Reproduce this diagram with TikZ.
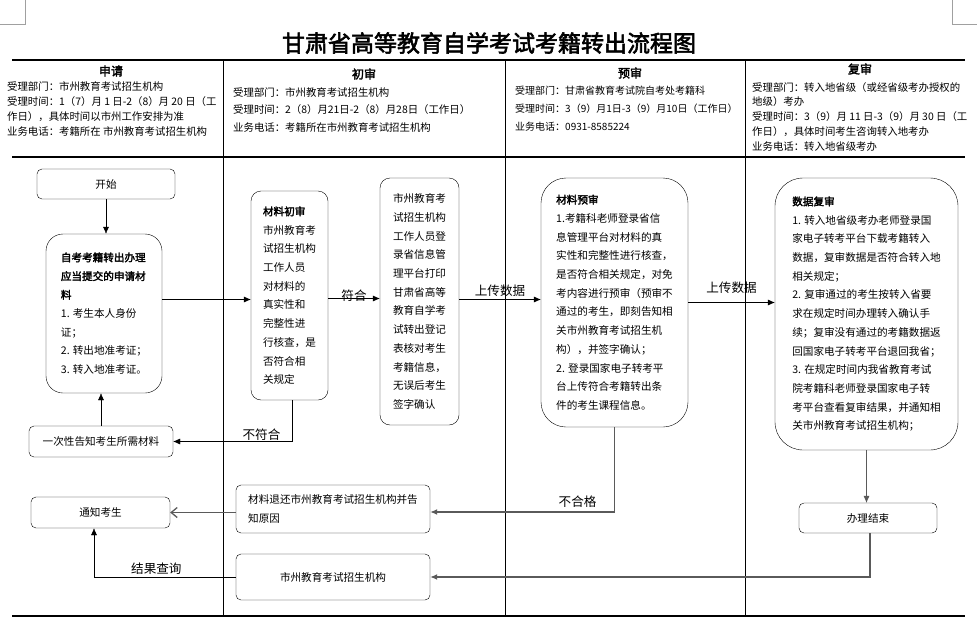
\documentclass[tikz,border=0pt]{standalone}
\usepackage{fontspec}
\setmainfont{Noto Sans CJK SC}[AutoFakeBold=2.5]
\usepackage{tikz}
\usetikzlibrary{arrows.meta, positioning}
\tikzset{>=Stealth}
\definecolor{linegray}{HTML}{5A5A5A}
\definecolor{markgray}{HTML}{A0A0A0}
\tikzset{
  box/.style={draw, rounded corners=5pt, inner sep=0pt, align=center, font=\fontsize{10.6}{18.7}\selectfont},
  tallbox/.style={box, align=left},
  info/.style={anchor=north west, inner sep=0pt, align=left},
  colhead/.style={inner sep=0pt, font=\fontsize{12}{12}\selectfont\bfseries},
  lbl/.style={inner sep=1pt, font=\fontsize{12.6}{13}\selectfont},
  flow/.style={-{Latex[length=7pt,width=6pt]}},
  backflow/.style={draw=linegray, line width=1.3pt, -{Latex[length=7pt,width=6pt]}}
}

\begin{document}
\begin{tikzpicture}[x=1pt, y=-1pt]
				\useasboundingbox (0,0) rectangle (977,626);
				% crop marks and table frame
				\draw [markgray] (25,0) -- (25,24) -- (0,24);
				\draw [markgray] (952,0) -- (952,24) -- (977,24);
				\draw [line width=1.6pt] (12,60) -- (965,60);
				\draw [line width=1.6pt] (12,157) -- (965,157);
				\draw [line width=1.6pt] (12,616) -- (965,616);
				\draw (223,60) -- (223,616);
				\draw (505,60) -- (505,616);
				\draw (745,60) -- (745,616);
				\node (title) [inner sep=0pt, font=\fontsize{23}{23}\selectfont\bfseries] at (489,43) {甘肃省高等教育自学考试考籍转出流程图};
				% column heads
				\node (happly) [colhead] at (111,71) {申请};
				\node (hfirst) [colhead] at (364,74) {初审};
				\node (hpre) [colhead] at (630,73) {预审};
				\node (hre) [colhead] at (860,69) {复审};
				\node (iapply) [info, font=\fontsize{10.4}{15}\selectfont] at (7,81) {受理部门：市州教育考试招生机构\\受理时间：1（7）月 1 日-2（8）月 20 日（工\\作日），具体时间以市州工作安排为准\\业务电话：考籍所在 市州教育考试招生机构};
				\node (ifirst) [info, font=\fontsize{10.4}{17.5}\selectfont] at (233,87) {受理部门：市州教育考试招生机构\\受理时间：2（8）月21日-2（8）月28日（工作日）\\业务电话：考籍所在市州教育考试招生机构};
				\node (ipre) [info, font=\fontsize{10}{18}\selectfont] at (515,86) {受理部门：甘肃省教育考试院自考处考籍科\\受理时间：3（9）月1日-3（9）月10日（工作日）\\业务电话：0931-8585224};
				\node (ire) [info, font=\fontsize{10.4}{14.8}\selectfont] at (752,82) {受理部门：转入地省级（或经省级考办授权的\\地级）考办\\受理时间：3（9）月 11 日-3（9）月 30 日（工\\作日），具体时间考生咨询转入地考办\\业务电话：转入地省级考办};
				% flow boxes
				\node (start) [box, minimum width=138pt, minimum height=30pt] at (106,184) {开始};
				\node (apply) [tallbox, rounded corners=17pt, minimum width=116pt, minimum height=159pt] at (104,313.5) {\textbf{自考考籍转出办理}\\\textbf{应当提交的申请材}\\\textbf{料}\\1. 考生本人身份\\证；\\2. 转出地准考证；\\3. 转入地准考证。};
				\node (notice) [box, minimum width=144pt, minimum height=31pt] at (101,441.5) {一次性告知考生所需材料};
				\node (firstcheck) [tallbox, rounded corners=10pt, minimum width=77pt, minimum height=209pt] at (289.5,295.5) {\textbf{材料初审}\\市州教育考\\试招生机构\\工作人员\\对材料的\\真实性和\\完整性进\\行核查，是\\否符合相\\关规定};
				\node (cityprint) [tallbox, rounded corners=10pt, minimum width=79pt, minimum height=247pt] at (419.5,301.5) {市州教育考\\试招生机构\\工作人员登\\录省信息管\\理平台打印\\甘肃省高等\\教育自学考\\试转出登记\\表核对考生\\考籍信息，\\无误后考生\\签字确认};
				\node (precheck) [tallbox, rounded corners=25pt, minimum width=147pt, minimum height=249pt] at (614.5,302.5) {\textbf{材料预审}\\1.考籍科老师登录省信\\息管理平台对材料的真\\实性和完整性进行核查，\\是否符合相关规定，对免\\考内容进行预审（预审不\\通过的考生，即刻告知相\\关市州教育考试招生机\\构），并签字确认；\\2. 登录国家电子转考平\\台上传符合考籍转出条\\件的考生课程信息。};
				\node (recheck) [tallbox, rounded corners=28pt, minimum width=183pt, minimum height=272pt] at (866.5,314) {\textbf{数据复审}\\1. 转入地省级考办老师登录国\\家电子转考平台下载考籍转入\\数据，复审数据是否符合转入地\\相关规定；\\2. 复审通过的考生按转入省要\\求在规定时间办理转入确认手\\续；复审没有通过的考籍数据返\\回国家电子转考平台退回我省；\\3. 在规定时间内我省教育考试\\院考籍科老师登录国家电子转\\考平台查看复审结果，并通知相\\关市州教育考试招生机构；};
				\node (finish) [box, minimum width=138pt, minimum height=30pt] at (868,518) {办理结束};
				\node (inform) [box, minimum width=139pt, minimum height=31pt] at (100.5,512.5) {通知考生};
				\node (returned) [tallbox, minimum width=194pt, minimum height=48pt] at (333,509) {材料退还市州教育考试招生机构并告\\知原因};
				\node (cityorg) [box, minimum width=194pt, minimum height=46pt] at (333,577) {市州教育考试招生机构};
				% connectors
				\draw [flow] (start) -- (start |- apply.north);
				\draw [flow] ([yshift=-4pt]firstcheck.west -| apply.east) -- ([yshift=-4pt]firstcheck.west);
				\draw [flow] ([yshift=-3pt]firstcheck.east) -- ([yshift=-3pt]firstcheck.east -| cityprint.west) node (lfit) [lbl, midway, above, yshift=-4pt] {符合};
				\draw [flow] ([yshift=2pt]cityprint.east) -- ([yshift=2pt]cityprint.east -| precheck.west) node (lup1) [lbl, midway, above, yshift=2pt] {上传数据};
				\draw [flow] (precheck.east) -- (precheck.east -| recheck.west) node (lup2) [lbl, midway, above, yshift=8pt] {上传数据};
				\draw [flow] ([xshift=3pt]firstcheck.south) |- (notice.east) node (lnofit) [lbl, pos=0.63, above] {不符合};
				\draw [flow] (notice) -- (notice |- apply.south);
				\draw [backflow] (precheck.south) |- ([yshift=-3pt]returned.east) node (lfail) [lbl, pos=0.6, above, yshift=3pt] {不合格};
				\draw [backflow, -{Straight Barb[length=6pt,width=10pt]}] (returned.west |- inform.east) -- (inform.east);
				\draw [flow, draw=linegray] (recheck.south) -- (recheck.south |- finish.north);
				\draw [backflow] ([xshift=2pt]finish.south) |- (cityorg.east);
				\draw [flow] (cityorg.west) -| ([xshift=-6.5pt]inform.south) node (lquery) [lbl, pos=0.28, above, yshift=1pt] {结果查询};
			\end{tikzpicture}
\end{document}
